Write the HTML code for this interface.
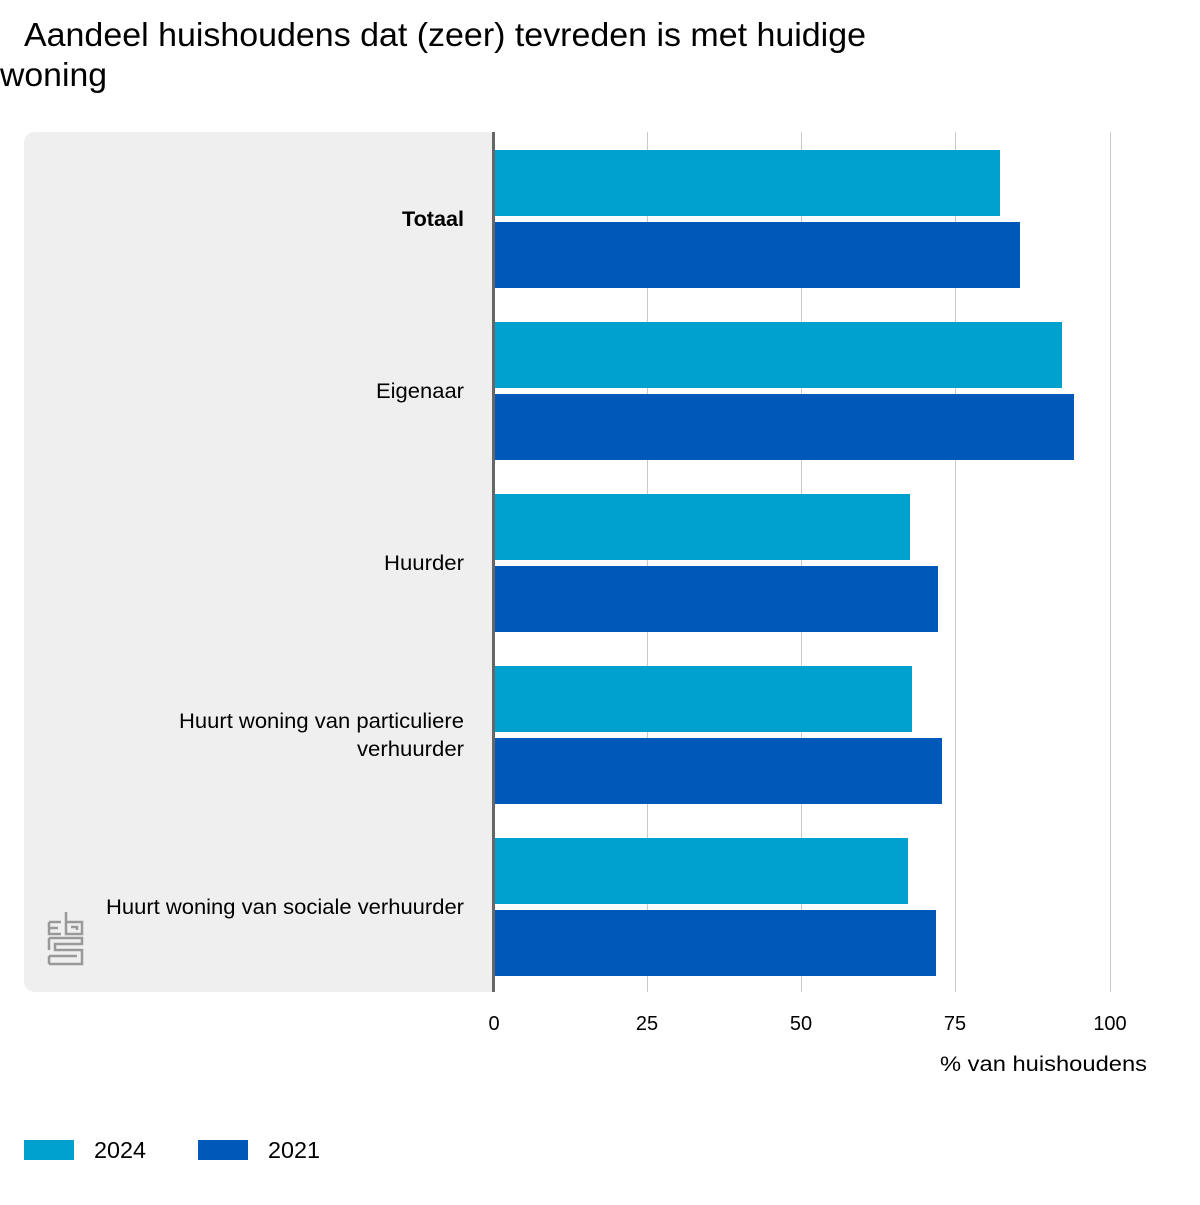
<!DOCTYPE html>
<html><head><meta charset="utf-8"><style>
body{margin:0;width:1200px;height:1200px;background:#fff;font-family:"Liberation Sans",Arial,sans-serif;overflow:hidden}
</style></head><body>
<svg width="1200" height="1200" xmlns="http://www.w3.org/2000/svg" font-family="Liberation Sans, Arial, sans-serif">
<text x="24" y="46" font-size="33" fill="#000" textLength="842" lengthAdjust="spacingAndGlyphs">Aandeel huishoudens dat (zeer) tevreden is met huidige</text>
<text x="0" y="86" font-size="33" fill="#000" textLength="107" lengthAdjust="spacingAndGlyphs">woning</text>
<path d="M36 132 H494 V992 H36 Q24 992 24 980 V144 Q24 132 36 132 Z" fill="#efefef"/>
<g stroke="#c8c8c8" stroke-width="1">
<line x1="647.5" y1="132" x2="647.5" y2="992"/>
<line x1="801.5" y1="132" x2="801.5" y2="992"/>
<line x1="955.5" y1="132" x2="955.5" y2="992"/>
<line x1="1110.5" y1="132" x2="1110.5" y2="992"/>
</g>
<g fill="#00a1cd">
<rect x="495" y="150" width="505" height="66"/>
<rect x="495" y="322" width="567" height="66"/>
<rect x="495" y="494" width="415" height="66"/>
<rect x="495" y="666" width="417" height="66"/>
<rect x="495" y="838" width="413" height="66"/>
</g>
<g fill="#0058b8">
<rect x="495" y="222" width="525" height="66"/>
<rect x="495" y="394" width="579" height="66"/>
<rect x="495" y="566" width="443" height="66"/>
<rect x="495" y="738" width="447" height="66"/>
<rect x="495" y="910" width="441" height="66"/>
</g>
<line x1="493.5" y1="132" x2="493.5" y2="992" stroke="#666" stroke-width="3"/>
<g font-size="21" fill="#000" text-anchor="end">
<text x="464" y="226" font-weight="bold" textLength="62" lengthAdjust="spacingAndGlyphs">Totaal</text>
<text x="464" y="398" textLength="88" lengthAdjust="spacingAndGlyphs">Eigenaar</text>
<text x="464" y="570" textLength="80" lengthAdjust="spacingAndGlyphs">Huurder</text>
<text x="464" y="728" textLength="285" lengthAdjust="spacingAndGlyphs">Huurt woning van particuliere</text>
<text x="464" y="756" textLength="107" lengthAdjust="spacingAndGlyphs">verhuurder</text>
<text x="464" y="914" textLength="358" lengthAdjust="spacingAndGlyphs">Huurt woning van sociale verhuurder</text>
</g>
<g font-size="20" fill="#000" text-anchor="middle">
<text x="494" y="1030">0</text>
<text x="647" y="1030">25</text>
<text x="801" y="1030">50</text>
<text x="955" y="1030">75</text>
<text x="1110" y="1030">100</text>
</g>
<text x="1147" y="1071" font-size="21" text-anchor="end" textLength="207" lengthAdjust="spacingAndGlyphs">% van huishoudens</text>
<rect x="24" y="1140" width="50" height="20" fill="#00a1cd"/>
<text x="94" y="1158" font-size="23" textLength="52" lengthAdjust="spacingAndGlyphs">2024</text>
<rect x="198" y="1140" width="50" height="20" fill="#0058b8"/>
<text x="268" y="1158" font-size="23" textLength="52" lengthAdjust="spacingAndGlyphs">2021</text>
<g fill="none" stroke="#999" stroke-width="2.5">
<path d="M49 922 H61 M49 922 V934 H61 M49 928 H58"/>
<path d="M66 912 V934 H82 V922 H66 M71 927 H77 V930"/>
<path d="M49 938 H82 V944 H55 V950 H82 V964 H49 M49 938 V950 M49 956 H77 M49 956 V964"/>
</g>
</svg>
</body></html>
